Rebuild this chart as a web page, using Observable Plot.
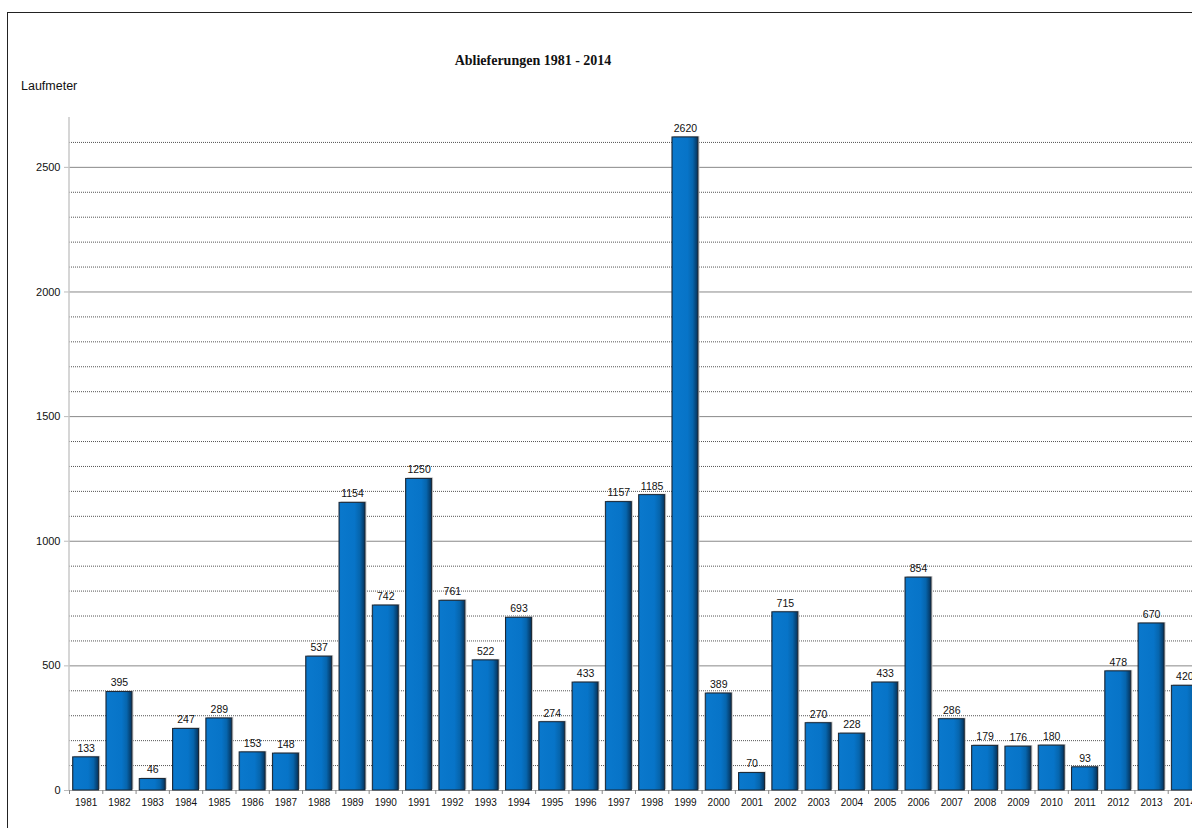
<!DOCTYPE html>
<html>
<head>
<meta charset="utf-8">
<script src="https://cdn.jsdelivr.net/npm/d3@7"></script>
<script src="https://cdn.jsdelivr.net/npm/@observablehq/plot@0.6"></script>
<style>
  html, body { margin: 0; padding: 0; background: #fff; }
  body { width: 1192px; height: 828px; overflow: hidden; position: relative; }
  #frame { position: absolute; left: 7px; top: 12px; width: 1300px; height: 900px; border-left: 1px solid #222; border-top: 1px solid #222; box-sizing: border-box; }
  #title { position: absolute; left: 533px; top: 53px; transform: translateX(-50%); font: bold 14px "Liberation Serif", "Times New Roman", serif; color: #111; white-space: nowrap; }
  #unit { position: absolute; left: 21px; top: 79px; font: 12.5px "Liberation Sans", Arial, sans-serif; color: #111; }
  #chart { position: absolute; left: 0; top: 0; width: 1210px; }
  #chart svg { max-width: none !important; }
</style>
</head>
<body>
<div id="frame"></div>
<div id="title">Ablieferungen 1981 - 2014</div>
<div id="unit">Laufmeter</div>
<div id="chart"></div>
<script>
const years = [1981,1982,1983,1984,1985,1986,1987,1988,1989,1990,1991,1992,1993,1994,1995,1996,1997,1998,1999,2000,2001,2002,2003,2004,2005,2006,2007,2008,2009,2010,2011,2012,2013,2014];
const values = [133,395,46,247,289,153,148,537,1154,742,1250,761,522,693,274,433,1157,1185,2620,389,70,715,270,228,433,854,286,179,176,180,93,478,670,420];
const yTicks = [0,500,1000,1500,2000,2500];
const gridMinor = [100,200,300,400,600,700,800,900,1100,1200,1300,1400,1600,1700,1800,1900,2100,2200,2300,2400,2600];
const gridMajor = [500,1000,1500,2000,2500];

const data = years.map((y, i) => ({year: String(y), value: values[i]}));
const bandStep = (1201 - 69) / years.length;
const barInset = bandStep * 0.11;

const chart = Plot.plot({
  width: 1210,
  height: 828,
  marginLeft: 69,
  marginRight: 9,
  marginTop: 117,
  marginBottom: 38,
  style: {fontFamily: '"Liberation Sans", Arial, sans-serif', background: "transparent", overflow: "visible", maxWidth: "none"},
  x: {type: "band", domain: years.map(String), padding: 0, round: false, label: null},
  y: {domain: [0, 2700], label: null},
  marks: [
    Plot.ruleY(gridMinor, {stroke: "#555", strokeDasharray: "1,1", strokeWidth: 1}),
    Plot.ruleY(gridMajor, {stroke: "#888", strokeWidth: 1}),
    Plot.ruleY([0], {stroke: "#aaa", strokeWidth: 1}),
    Plot.ruleX(data, {x: "year", y1: 0, y2: -16, dx: -bandStep / 2, stroke: "#888"}),
    Plot.ruleX(data.slice(-1), {x: "year", y1: 0, y2: -16, dx: bandStep / 2, stroke: "#888"}),
    Plot.barY(data, {x: "year", y: "value", fill: "#c8c8c8", dx: 1.5, dy: -1, insetLeft: barInset, insetRight: barInset}),
    Plot.barY(data, {x: "year", y: "value", fill: "url(#barGrad)", stroke: "#1a2633", strokeWidth: 1, insetLeft: barInset, insetRight: barInset}),
    Plot.text(data, {x: "year", y: "value", text: d => String(d.value), dy: -9, fontSize: 10.5, fill: "#111"}),
    Plot.axisY({ticks: yTicks, tickFormat: d => String(d), tickSize: 5, tickPadding: 4, fontSize: 11, stroke: "#bbb", color: "#111", label: null}),
    Plot.axisX({tickSize: 0, tickPadding: 8, fontSize: 10, color: "#111", label: null})
  ]
});

const svg = chart;
const ns = "http://www.w3.org/2000/svg";
const defs = document.createElementNS(ns, "defs");
const grad = document.createElementNS(ns, "linearGradient");
grad.setAttribute("id", "barGrad");
grad.setAttribute("x1", "0"); grad.setAttribute("x2", "1");
grad.setAttribute("y1", "0"); grad.setAttribute("y2", "0");
[["0%", "#0a5c9e"], ["6%", "#0a78cc"], ["60%", "#0774c8"], ["80%", "#0665ad"], ["100%", "#05325a"]].forEach(([o, c]) => {
  const s = document.createElementNS(ns, "stop");
  s.setAttribute("offset", o); s.setAttribute("stop-color", c);
  grad.appendChild(s);
});
defs.appendChild(grad);
svg.insertBefore(defs, svg.firstChild);
const axisLine = document.createElementNS(ns, "line");
axisLine.setAttribute("x1", 69); axisLine.setAttribute("x2", 69);
axisLine.setAttribute("y1", 117); axisLine.setAttribute("y2", 790);
axisLine.setAttribute("stroke", "#c8c8c8"); axisLine.setAttribute("stroke-width", 1.5);
svg.appendChild(axisLine);

document.getElementById("chart").appendChild(chart);
</script>
</body>
</html>
